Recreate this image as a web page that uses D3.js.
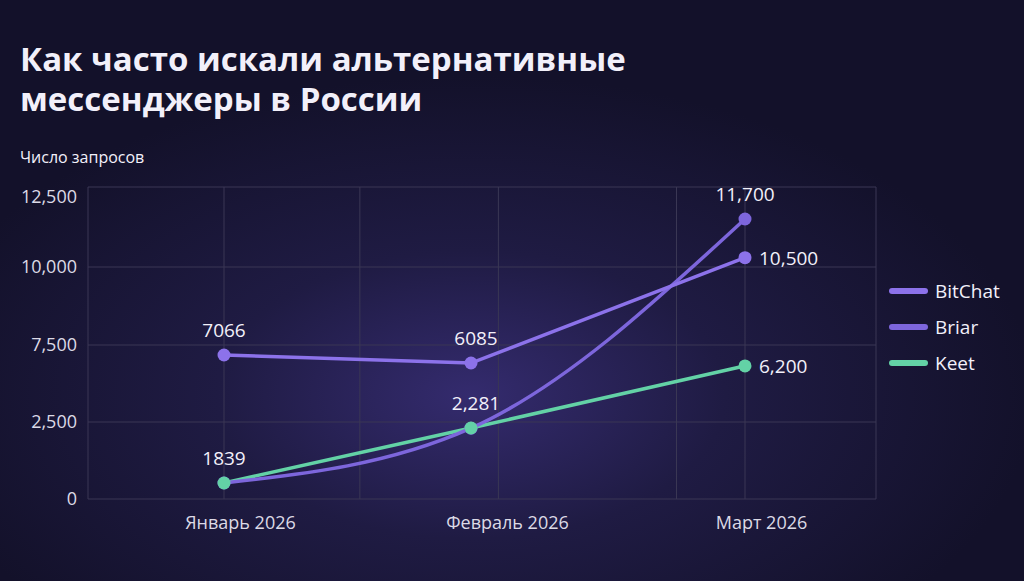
<!DOCTYPE html>
<head>
  <meta charset="utf-8">
  <style>
    body { margin: 0; background: #15132b; }
    text { font-family: "Open Sans", "Noto Sans", sans-serif; fill: #f2f0fa; }
    .grid line { stroke: #3a3754; stroke-width: 1; }
    .tick text { font-size: 18px; fill: #dcdae6; }
    .line { fill: none; stroke-width: 3.5; stroke-linecap: round; }
  </style>
  <script src="https://d3js.org/d3.v7.min.js"></script>
</head>
<body>
<script>
  var months = ["Январь 2026", "Февраль 2026", "Март 2026"];
  var yTicks = [0, 2500, 7500, 10000, 12500];
  var bitchat = [6850, 6330, 10290];
  var briar = [520, 2300, 11500];
  var keet = [520, 2305, 6140];
  var bitchatLabels = ["7066", "6085", "10,500"];
  var briarLabels = ["", "", "11,700"];
  var keetLabels = ["1839", "2,281", "6,200"];
  var gridX = [-0.55, 0, 0.55, 1.1, 1.75, 2, 2.48];

  var series = [
    {name: "BitChat", values: bitchat, labels: bitchatLabels, color: "#8c72ea", curve: d3.curveLinear},
    {name: "Briar", values: briar, labels: briarLabels, color: "#7d66dc", curve: d3.curveMonotoneX},
    {name: "Keet", values: keet, labels: keetLabels, color: "#63d2a6", curve: d3.curveMonotoneX}
  ];

  var W = 1024, H = 581;
  var svg = d3.select("body").append("svg").attr("width", W).attr("height", H);

  var defs = svg.append("defs");
  var rg = defs.append("radialGradient").attr("id", "glow")
    .attr("cx", "46%").attr("cy", "68%").attr("r", "55%");
  rg.append("stop").attr("offset", "0%").attr("stop-color", "#342b6e");
  rg.append("stop").attr("offset", "45%").attr("stop-color", "#1f1b43");
  rg.append("stop").attr("offset", "100%").attr("stop-color", "#13112a");
  svg.append("rect").attr("width", W).attr("height", H).attr("fill", "url(#glow)");

  svg.append("text").attr("x", 20).attr("y", 71).attr("font-size", 33).attr("font-weight", 700)
    .text("Как часто искали альтернативные");
  svg.append("text").attr("x", 20).attr("y", 111).attr("font-size", 33).attr("font-weight", 700)
    .text("мессенджеры в России");
  svg.append("text").attr("x", 20).attr("y", 163).attr("font-size", 16).text("Число запросов");

  var x = d3.scaleLinear().domain([-0.55, 0, 1, 2, 2.48]).range([88, 224, 471, 745, 876]);
  var y = d3.scaleLinear().domain(yTicks).range([499, 422, 345, 267, 187]);

  // grid
  var grid = svg.append("g").attr("class", "grid");
  grid.selectAll(".h").data(yTicks).enter().append("line")
    .attr("x1", x(-0.55)).attr("x2", x(2.48))
    .attr("y1", function(d) { return y(d); }).attr("y2", function(d) { return y(d); });
  grid.selectAll(".v").data(gridX).enter().append("line")
    .attr("x1", function(d) { return x(d); }).attr("x2", function(d) { return x(d); })
    .attr("y1", y(12500)).attr("y2", y(0));

  // axes
  var yAxis = svg.append("g").attr("transform", "translate(" + (x(-0.55) - 6) + ",0)")
    .call(d3.axisLeft(y).tickValues(yTicks).tickSize(0).tickFormat(d3.format(",")));
  yAxis.select(".domain").remove();
  yAxis.selectAll(".tick text").attr("dx", -2).attr("dy", function(d) { return d === 12500 ? "0.85em" : "0.32em"; });

  var xAxis = svg.append("g").attr("transform", "translate(0," + (y(0) + 14) + ")")
    .call(d3.axisBottom(x).tickValues([0, 1, 2]).tickSize(0).tickFormat(function(d) { return months[d]; }));
  xAxis.select(".domain").remove();
  xAxis.selectAll(".tick text").attr("dx", function(d) { return d === 1 ? 36 : 16; });

  var line = function(s) {
    return d3.line().x(function(d, i) { return x(i); }).y(function(d) { return y(d); }).curve(s.curve)(s.values);
  };

  series.slice().reverse().forEach(function(s) {
    svg.append("path").attr("class", "line").attr("stroke", s.color).attr("d", line(s));
  });
  series.forEach(function(s) {
    svg.selectAll(null).data(s.values).enter().append("circle")
      .attr("cx", function(d, i) { return x(i); }).attr("cy", function(d) { return y(d); })
      .attr("r", 6.5).attr("fill", s.color);
    svg.selectAll(null).data(s.values).enter().append("text")
      .attr("font-size", 19)
      .attr("x", function(d, i) { return i === 2 && s.name !== "Briar" ? x(i) + 14 : x(i) + (i === 1 ? 5 : 0); })
      .attr("y", function(d, i) { return i === 2 && s.name !== "Briar" ? y(d) + 7 : y(d) - 18; })
      .attr("text-anchor", function(d, i) { return i === 2 && s.name !== "Briar" ? "start" : "middle"; })
      .text(function(d, i) { return s.labels[i]; });
  });

  // legend
  var lg = svg.append("g").attr("transform", "translate(892,291)");
  series.forEach(function(s, i) {
    lg.append("line").attr("x1", 0).attr("x2", 33).attr("y1", i * 36).attr("y2", i * 36)
      .attr("stroke", s.color).attr("stroke-width", 6).attr("stroke-linecap", "round");
    lg.append("text").attr("x", 43).attr("y", i * 36 + 7).attr("font-size", 19).text(s.name);
  });
</script>
</body>
</html>
